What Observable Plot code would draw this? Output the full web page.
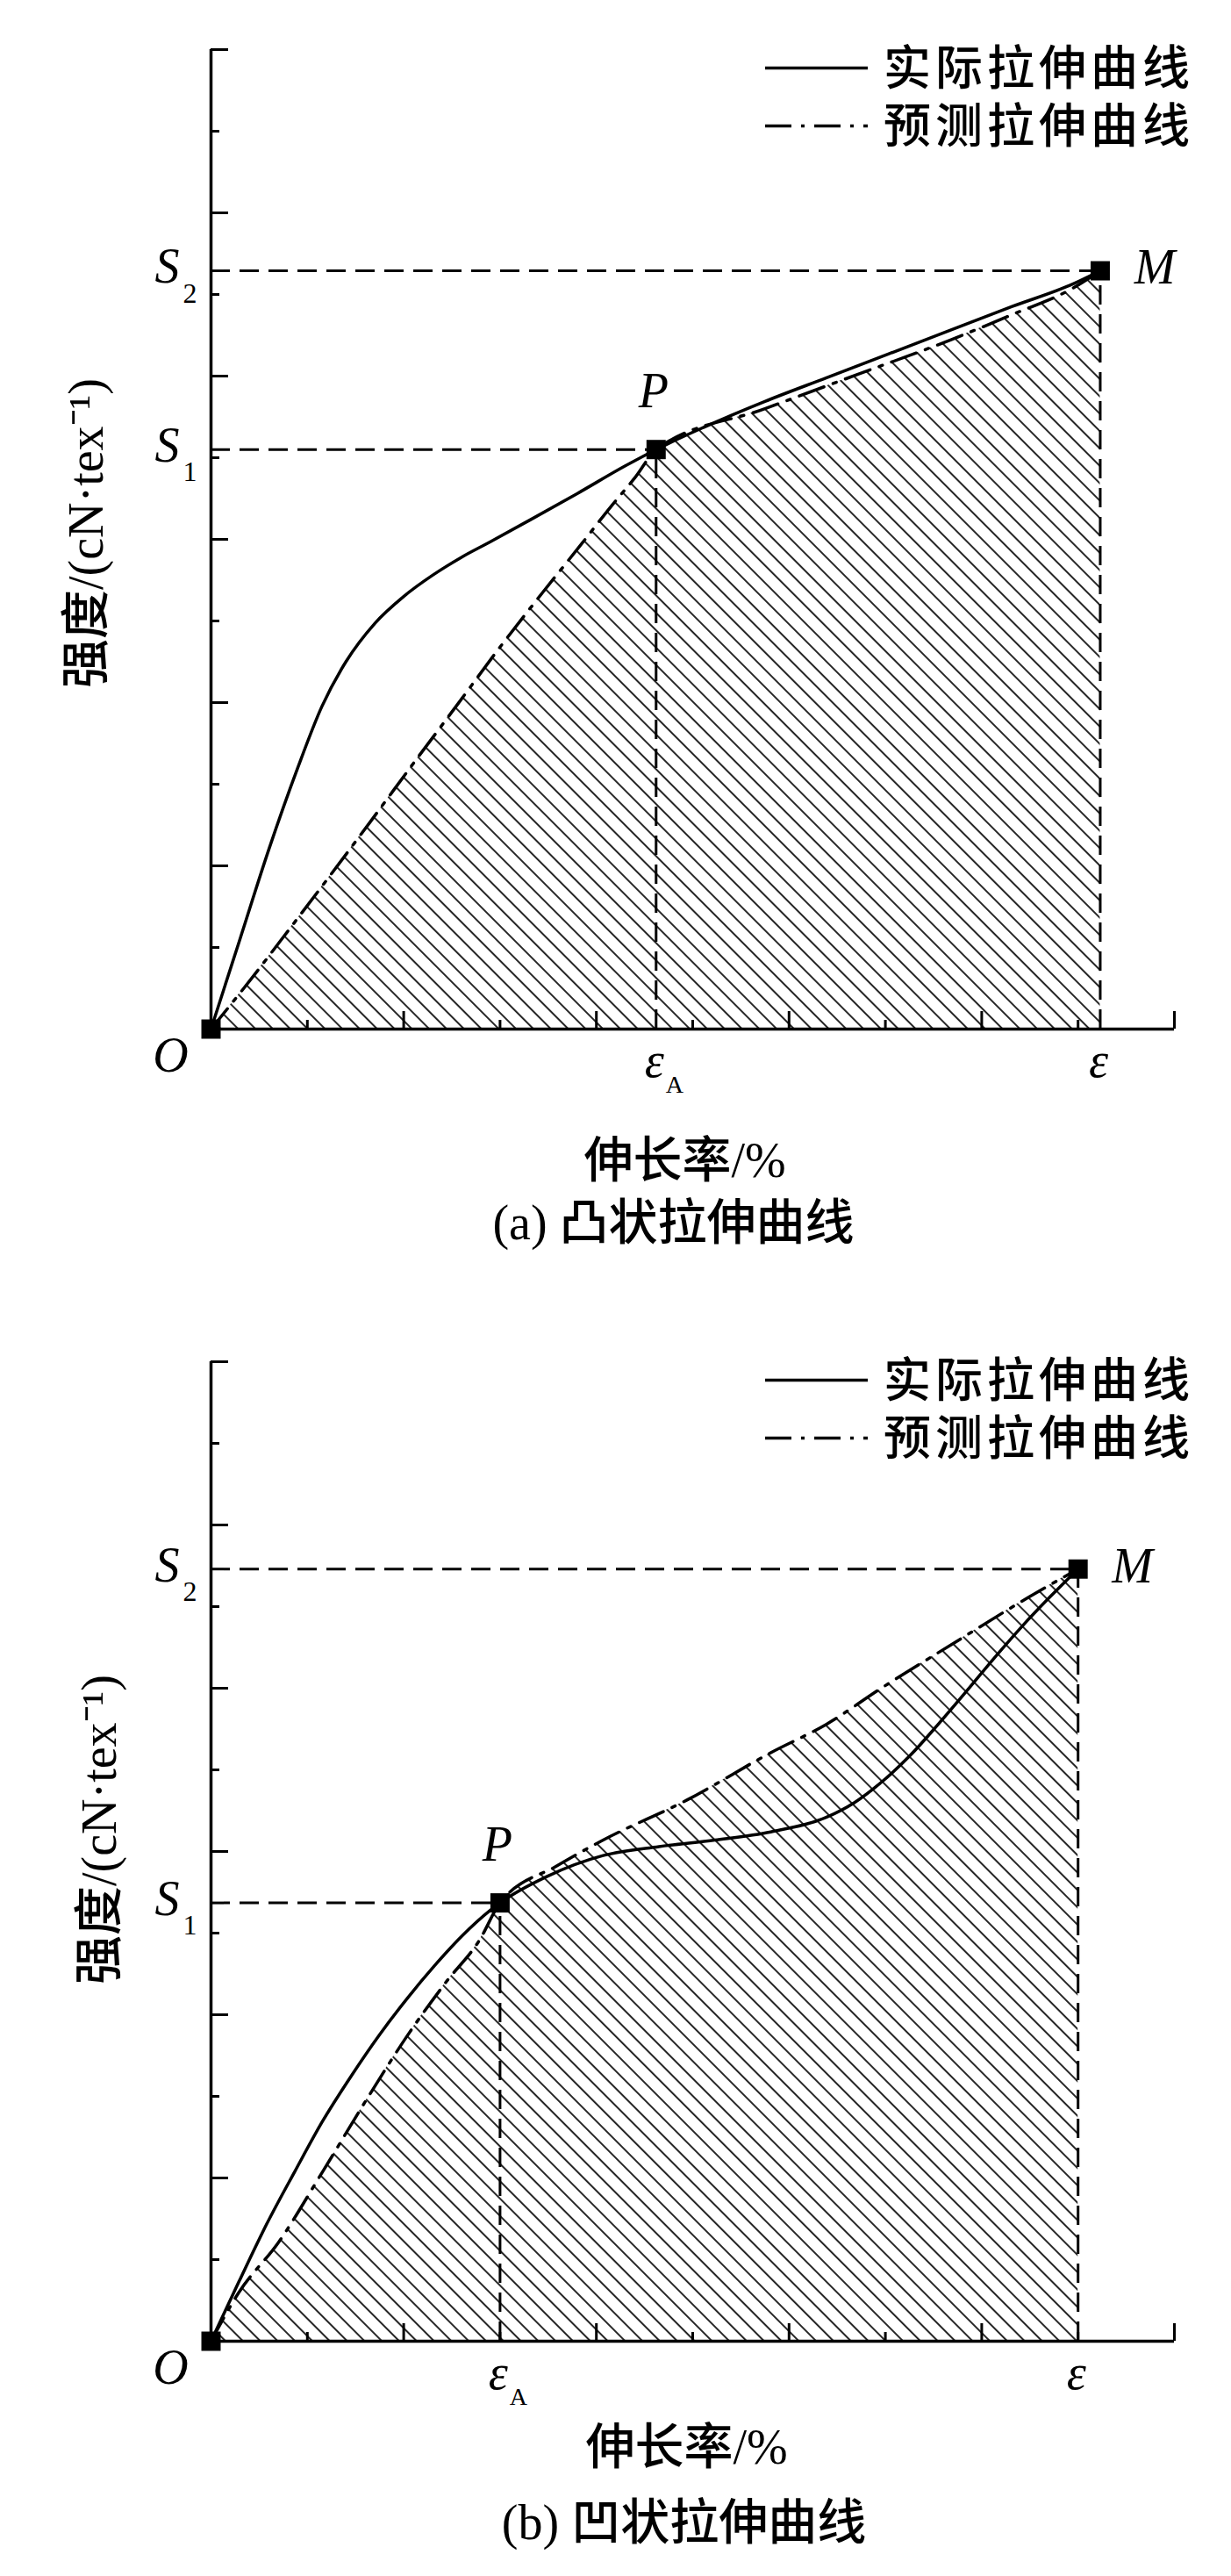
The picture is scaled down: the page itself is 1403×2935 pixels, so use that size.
<!DOCTYPE html>
<html>
<head>
<meta charset="utf-8">
<script src="https://cdn.jsdelivr.net/npm/d3@7"></script>
<script src="https://cdn.jsdelivr.net/npm/@observablehq/plot@0.6"></script>
<style>
html, body { margin: 0; padding: 0; background: #fff; overflow: hidden; }
#chart svg { display: block; }
#chart g[aria-label="caption"] text { letter-spacing: 5px; }
#chart g[aria-label="x-title"] text { letter-spacing: 3px; }
#chart g[aria-label="y-title"] text { letter-spacing: 2px; }
#chart g.legend text { letter-spacing: 5px; }
</style>
</head>
<body>
<div id="chart"></div>
<script>
// ---------- shared axis ticks (no numeric labels in the original) ----------
const xMajorTicks = [0, 2, 4, 6, 8, 10];
const xMinorTicks = [1, 3, 5, 7, 9];
const yMajorTicks = [0, 2, 4, 6, 8, 10, 12];
const yMinorTicks = [1, 3, 5, 7, 9, 11];

const legendLabels = ["实际拉伸曲线", "预测拉伸曲线"];
const xTitle = "伸长率/%";
const yTitle = "强度/(cN·tex⁻¹)";

// ---------- panel (a): convex curve ----------
const aCaption = "(a) 凸状拉伸曲线";
const aActualX = [0, 0.3, 0.6, 0.9, 1.15, 1.4, 1.7, 2.0, 2.3, 2.6, 2.9, 3.3, 3.8, 4.3, 4.62, 5.11, 5.75, 6.39, 7.03, 7.67, 8.31, 8.95, 9.23];
const aActualY = [0, 1.1, 2.2, 3.2, 3.95, 4.5, 4.97, 5.3, 5.56, 5.78, 5.97, 6.23, 6.56, 6.9, 7.10, 7.37, 7.69, 7.98, 8.27, 8.56, 8.85, 9.13, 9.29];
const aPredX = [0, 0.42, 0.83, 1.21, 1.66, 2.11, 2.56, 3.0, 3.45, 3.83, 4.15, 4.41, 4.62, 5.75, 6.71, 7.67, 8.31, 8.95, 9.23];
const aPredY = [0, 0.62, 1.25, 1.84, 2.55, 3.27, 3.98, 4.68, 5.36, 5.92, 6.4, 6.77, 7.10, 7.60, 8.02, 8.44, 8.75, 9.08, 9.29];
const aPointNames = ["O", "P", "M"];
const aPointX = [0, 4.62, 9.23];
const aPointY = [0, 7.10, 9.29];

// ---------- panel (b): concave curve ----------
const bCaption = "(b) 凹状拉伸曲线";
const bActualX = [0, 0.29, 0.58, 0.87, 1.16, 1.45, 1.74, 2.03, 2.32, 2.61, 2.9, 3.0, 3.48, 4.07, 4.65, 5.23, 5.81, 6.39, 6.68, 6.97, 7.26, 7.55, 7.84, 8.13, 8.42, 8.71, 9.0];
const bActualY = [0, 0.73, 1.44, 2.08, 2.7, 3.24, 3.74, 4.19, 4.6, 4.97, 5.28, 5.37, 5.69, 5.95, 6.06, 6.14, 6.24, 6.42, 6.6, 6.86, 7.18, 7.56, 7.96, 8.37, 8.76, 9.12, 9.46];
const bPredX = [0, 0.29, 0.7, 1.16, 1.63, 2.03, 2.44, 2.79, 3.0, 3.6, 4.07, 4.94, 5.81, 6.39, 6.97, 7.72, 8.48, 9.0];
const bPredY = [0, 0.6, 1.21, 2.08, 2.99, 3.73, 4.4, 4.92, 5.37, 5.83, 6.14, 6.63, 7.21, 7.56, 8.01, 8.56, 9.11, 9.46];
const bPointNames = ["O", "P", "M"];
const bPointX = [0, 3.0, 9.0];
const bPointY = [0, 5.37, 9.46];

const zip = (xs, ys) => xs.map((x, i) => ({x, y: ys[i]}));

const SERIF = "'Liberation Serif', 'Times New Roman', serif";
const MIXED = "'Liberation Serif', 'Noto Sans CJK SC', serif";
const DASHDOT = "30,11,4,11";
const DASHED = "22,11";
const CURVE = "monotone-x";

function hatchDefs(id) {
  return () => {
    const defs = d3.create("svg:defs");
    const p = defs.append("pattern")
      .attr("id", id)
      .attr("patternUnits", "userSpaceOnUse")
      .attr("width", 14).attr("height", 14)
      .attr("patternTransform", "rotate(-45)");
    p.append("line")
      .attr("x1", 7).attr("x2", 7).attr("y1", -1).attr("y2", 15)
      .attr("stroke", "#000").attr("stroke-width", 1.7);
    return defs.node();
  };
}

function legendMark(index, scales, values, dim) {
  const g = d3.create("svg:g").attr("class", "legend");
  const right = dim.width - dim.marginRight;
  const top = dim.marginTop;
  const dashes = [null, DASHDOT];
  const rowGap = 66;
  legendLabels.forEach((label, i) => {
    const cy = top + 21.5 + i * rowGap;
    g.append("line")
      .attr("x1", right - 466).attr("x2", right - 349)
      .attr("y1", cy).attr("y2", cy)
      .attr("stroke", "#000").attr("stroke-width", 3.5)
      .attr("stroke-dasharray", dashes[i]);
    g.append("text")
      .attr("x", right - 331).attr("y", cy).attr("dy", "0.37em")
      .attr("text-anchor", "start")
      .attr("font-family", MIXED).attr("font-size", 54).attr("font-weight", 500)
      .attr("fill", "#000")
      .text(label);
  });
  return g.node();
}

function makePanel(cfg) {
  const actual = zip(cfg.actualX, cfg.actualY);
  const pred = zip(cfg.predX, cfg.predY);
  const pts = cfg.names.map((name, i) => ({name, x: cfg.px[i], y: cfg.py[i]}));
  const P = pts[1], M = pts[2];
  const hGuides = [P, M].map(d => ({y: d.y, x1: 0, x2: d.x}));
  const vGuides = [P, M].map(d => ({x: d.x, y1: 0, y2: d.y}));
  const sLabels = [{y: P.y, sub: "1", x: 0}, {y: M.y, sub: "2", x: 0}];
  const eLabels = [{x: P.x, y: 0, sub: "A"}, {x: M.x, y: 0, sub: ""}];

  return Plot.plot({
    width: 1403,
    height: cfg.height,
    marginTop: cfg.marginTop,
    marginBottom: cfg.marginBottom,
    marginLeft: 240,
    marginRight: 65,
    style: {background: "#fff", color: "#000"},
    x: {domain: [0, 10], axis: null},
    y: {domain: [0, 12], axis: null},
    marks: [
      hatchDefs(cfg.hatchId),
      Plot.areaY(pred, {x: "x", y: "y", curve: CURVE, fill: `url(#${cfg.hatchId})`}),
      Plot.ruleY(hGuides, {y: "y", x1: "x1", x2: "x2", stroke: "#000", strokeWidth: 3, strokeDasharray: DASHED}),
      Plot.ruleX(vGuides, {x: "x", y1: "y1", y2: "y2", stroke: "#000", strokeWidth: 3, strokeDasharray: DASHED}),
      Plot.line(pred, {x: "x", y: "y", curve: CURVE, stroke: "#000", strokeWidth: 3.5, strokeDasharray: DASHDOT}),
      Plot.line(actual, {x: "x", y: "y", curve: CURVE, stroke: "#000", strokeWidth: 3.5}),
      Plot.ruleX([0], {stroke: "#000", strokeWidth: 3.5}),
      Plot.ruleY([0], {stroke: "#000", strokeWidth: 3.5}),
      Plot.axisX(xMajorTicks, {anchor: "bottom", tickSize: -20, strokeWidth: 3, tickFormat: () => "", label: null}),
      Plot.axisX(xMinorTicks, {anchor: "bottom", tickSize: -10, strokeWidth: 3, tickFormat: () => "", label: null}),
      Plot.axisY(yMajorTicks, {anchor: "left", tickSize: -20, strokeWidth: 3, tickFormat: () => "", label: null}),
      Plot.axisY(yMinorTicks, {anchor: "left", tickSize: -10, strokeWidth: 3, tickFormat: () => "", label: null}),
      Plot.dot(pts, {x: "x", y: "y", symbol: "square", r: 12.4, fill: "#000", stroke: null}),
      // point labels P, M, O
      Plot.text([P], {x: "x", y: "y", text: "name", dx: -3, dy: -66, fontFamily: SERIF, fontStyle: "italic", fontSize: 56, fill: "#000"}),
      Plot.text([M], {x: "x", y: "y", text: "name", dx: 62, dy: -3, fontFamily: SERIF, fontStyle: "italic", fontSize: 56, fill: "#000"}),
      Plot.text([pts[0]], {x: "x", y: "y", text: "name", dx: -46, dy: 31, fontFamily: SERIF, fontStyle: "italic", fontSize: 56, fill: "#000"}),
      // S1, S2 on the y axis
      Plot.text(sLabels, {x: "x", y: "y", text: () => "S", dx: -50, dy: -4, fontFamily: SERIF, fontStyle: "italic", fontSize: 56, fill: "#000"}),
      Plot.text(sLabels, {x: "x", y: "y", text: "sub", dx: -24, dy: 26, fontFamily: SERIF, fontSize: 32, fill: "#000"}),
      // epsilon labels on the x axis
      Plot.text(eLabels, {x: "x", y: "y", text: () => "ε", dx: -2, dy: 37, fontFamily: SERIF, fontStyle: "italic", fontSize: 56, fill: "#000"}),
      Plot.text(eLabels, {x: "x", y: "y", text: "sub", dx: 21, dy: 64, fontFamily: SERIF, fontSize: 28, fill: "#000"}),
      // axis titles and caption
      Plot.text([xTitle], {text: d => d, ariaLabel: "x-title", frameAnchor: "bottom", lineAnchor: "middle", textAnchor: "middle", dx: cfg.xTitleDx, dy: cfg.xTitleDy, fontFamily: MIXED, fontSize: 56, fontWeight: 500, fill: "#000"}),
      Plot.text([cfg.caption], {text: d => d, ariaLabel: "caption", frameAnchor: "bottom", lineAnchor: "middle", textAnchor: "middle", dx: cfg.captionDx, dy: cfg.captionDy, fontFamily: MIXED, fontSize: 56, fontWeight: 500, fill: "#000"}),
      Plot.text([yTitle], {text: d => d, ariaLabel: "y-title", frameAnchor: "left", lineAnchor: "middle", textAnchor: "middle", rotate: -90, dx: cfg.yTitleDx, dy: cfg.yTitleDy, fontFamily: MIXED, fontSize: 56, fontWeight: 500, fill: "#000"}),
      legendMark
    ]
  });
}

const chart = document.getElementById("chart");
chart.append(makePanel({
  height: 1450, marginTop: 56, marginBottom: 278, hatchId: "hatchA",
  actualX: aActualX, actualY: aActualY, predX: aPredX, predY: aPredY,
  names: aPointNames, px: aPointX, py: aPointY,
  caption: aCaption,
  xTitleDx: -9, xTitleDy: 151, captionDx: -22, captionDy: 222, yTitleDx: -141, yTitleDy: -7
}));
chart.append(makePanel({
  height: 1485, marginTop: 101, marginBottom: 268, hatchId: "hatchB",
  actualX: bActualX, actualY: bActualY, predX: bPredX, predY: bPredY,
  names: bPointNames, px: bPointX, py: bPointY,
  caption: bCaption,
  xTitleDx: -7, xTitleDy: 122, captionDx: -10, captionDy: 208, yTitleDx: -126, yTitleDy: -25
}));
</script>
</body>
</html>
